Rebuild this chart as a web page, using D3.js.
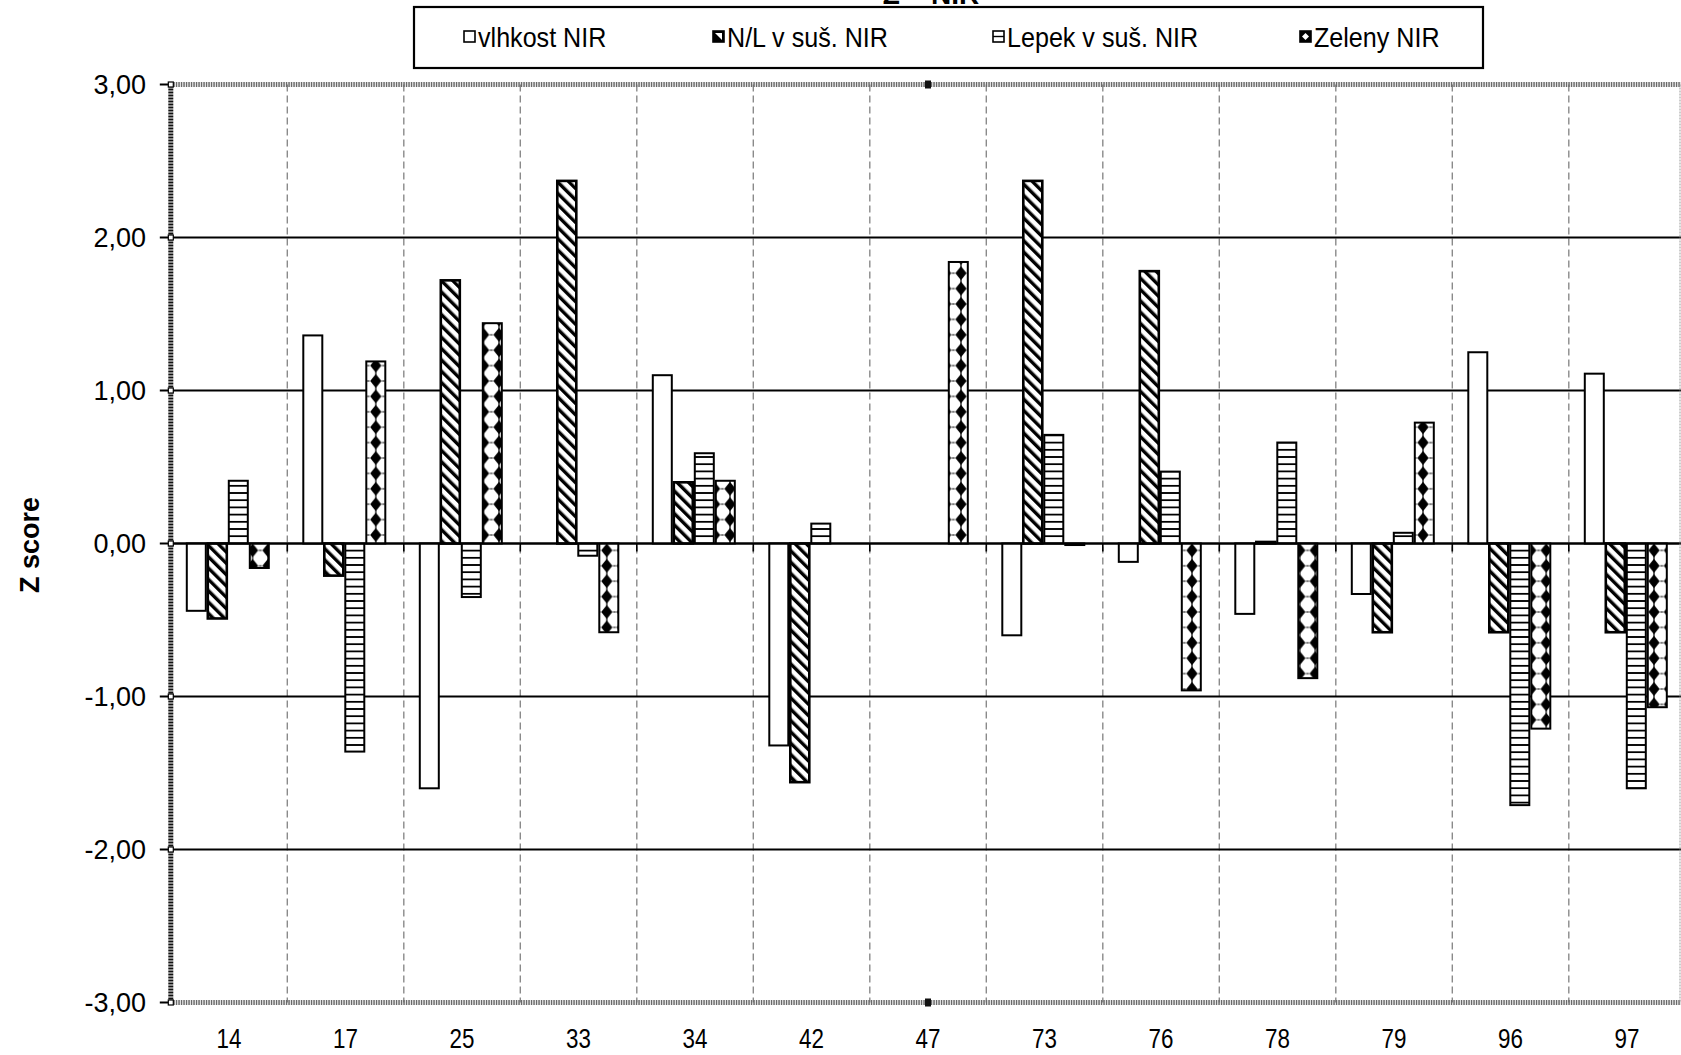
<!DOCTYPE html>
<html><head><meta charset="utf-8">
<script src="https://cdn.jsdelivr.net/npm/d3@7"></script>
<style>body{margin:0;background:#fff;overflow:hidden}</style>
</head><body><svg id="c" width="1681" height="1055"></svg>
<script>
// ---- data ----
const categories = ["14","17","25","33","34","42","47","73","76","78","79","96","97"];
const seriesNames = ["vlhkost NIR","N/L v suš. NIR","Lepek v suš. NIR","Zeleny NIR"];
const vlhkost = [-0.44, 1.36, -1.60, null, 1.10, -1.32, null, -0.60, -0.12, -0.46, -0.33, 1.25, 1.11];
const nl      = [-0.49, -0.21, 1.72, 2.37, 0.40, -1.56, null, 2.37, 1.78, 0.01, -0.58, -0.58, -0.58];
const lepek   = [0.41, -1.36, -0.35, -0.08, 0.59, 0.13, null, 0.71, 0.47, 0.66, 0.07, -1.71, -1.60];
const zeleny  = [-0.16, 1.19, 1.44, -0.58, 0.41, null, 1.84, -0.01, -0.96, -0.88, 0.79, -1.21, -1.07];
const yTicks = [-3, -2, -1, 0, 1, 2, 3];
const titleText = "Z – NIR";
const yAxisTitle = "Z score";

const seriesValues = [vlhkost, nl, lepek, zeleny];
const fills = ["#fff", "url(#pNL)", "url(#pLep)", "url(#pZel)"];
const strokeW = [2, 2.6, 2, 2];

const svg = d3.select("#c");
const FONT = "'Liberation Sans', Arial, sans-serif";
const pLeft = 170.8, band = 116.5, pTop = 84.5, pBottom = 1002.5;

const x0 = d3.scaleBand().domain(categories).range([pLeft, pLeft + band * categories.length]).padding(0);
const x1 = d3.scaleBand().domain(seriesNames).range([15, 15 + 84]).padding(0);
const y = d3.scaleLinear().domain([-3, 3]).range([pBottom, pTop]);

// ---- patterns ----
const defs = svg.append("defs");
const pNL = defs.append("pattern").attr("id", "pNL").attr("patternUnits", "userSpaceOnUse")
  .attr("width", 8).attr("height", 8).attr("patternTransform", "rotate(-45)");
pNL.append("rect").attr("width", 8).attr("height", 8).attr("fill", "#fff");
pNL.append("rect").attr("width", 3.4).attr("height", 8).attr("fill", "#000");

const pLep = defs.append("pattern").attr("id", "pLep").attr("patternUnits", "userSpaceOnUse")
  .attr("width", 10).attr("height", 7.2).attr("y", y(0) - 1);
pLep.append("rect").attr("width", 10).attr("height", 7.2).attr("fill", "#fff");
pLep.append("rect").attr("width", 10).attr("height", 1.8).attr("fill", "#000");

const P = 15.4;
const zelCenter = x0("17") + x1("Zeleny NIR") + x1.bandwidth() / 2;
const pZel = defs.append("pattern").attr("id", "pZel").attr("patternUnits", "userSpaceOnUse")
  .attr("width", P).attr("height", P).attr("x", zelCenter - P / 2).attr("y", y(0) - 8.5 - P / 2);
pZel.append("rect").attr("width", P).attr("height", P).attr("fill", "#fff");
pZel.append("line").attr("x1", P / 2).attr("x2", P / 2).attr("y1", 0).attr("y2", P)
  .attr("stroke", "#000").attr("stroke-width", 1.2);
pZel.append("polygon").attr("points", `${P/2},0.7 ${P/2+5.6},${P/2} ${P/2},${P-0.7} ${P/2-5.6},${P/2}`).attr("fill", "#000");
pZel.append("line").attr("x1", 0).attr("x2", 1.5).attr("y1", P/2).attr("y2", P/2).attr("stroke", "#000").attr("stroke-width", 1.2);
pZel.append("line").attr("x1", P - 1.5).attr("x2", P).attr("y1", P/2).attr("y2", P/2).attr("stroke", "#000").attr("stroke-width", 1.2);

// ---- title (mostly cut off at the top edge, as in the source) ----
svg.append("text").attr("x", 931).attr("y", 4).attr("text-anchor", "middle")
  .attr("font-family", FONT).attr("font-weight", "bold").attr("font-size", 28).text(titleText);

// ---- vertical dashed separators ----
const g = svg.append("g");
categories.slice(0, -1).forEach(c => {
  const xx = x0(c) + band;
  g.append("line").attr("x1", xx).attr("x2", xx).attr("y1", pTop).attr("y2", pBottom)
    .attr("stroke", "#8a8a8a").attr("stroke-width", 1.4).attr("stroke-dasharray", "7,4");
  g.append("line").attr("x1", xx).attr("x2", xx).attr("y1", y(0)).attr("y2", y(0) + 8)
    .attr("stroke", "#000").attr("stroke-width", 1.6);
});

// ---- horizontal gridlines ----
yTicks.filter(t => t !== 3 && t !== -3).forEach(t => {
  g.append("line").attr("x1", pLeft).attr("x2", 1681).attr("y1", y(t)).attr("y2", y(t))
    .attr("stroke", "#000").attr("stroke-width", 2);
});

// ---- bars ----
seriesValues.forEach((vals, si) => {
  const s = seriesNames[si];
  g.append("g").selectAll("rect")
    .data(categories.map((c, i) => ({ c, v: vals[i] })).filter(d => d.v !== null))
    .join("rect")
    .attr("x", d => x0(d.c) + x1(s) + 1)
    .attr("width", x1.bandwidth() - 2)
    .attr("y", d => Math.min(y(d.v), y(0)))
    .attr("height", d => Math.max(Math.abs(y(d.v) - y(0)), 1))
    .attr("fill", fills[si]).attr("stroke", "#000").attr("stroke-width", strokeW[si]);
});

// ---- zero line on top ----
g.append("line").attr("x1", pLeft).attr("x2", 1681).attr("y1", y(0)).attr("y2", y(0))
  .attr("stroke", "#000").attr("stroke-width", 2);

// ---- frame ----
[pTop, pBottom].forEach(yy => {
  svg.append("line").attr("x1", pLeft).attr("x2", 1681).attr("y1", yy).attr("y2", yy)
    .attr("stroke", "#6a6a6a").attr("stroke-width", 5).attr("stroke-dasharray", "1.5,1");
  svg.append("rect").attr("x", 925).attr("y", yy - 4).attr("width", 6).attr("height", 8).attr("fill", "#111");
});
svg.append("line").attr("x1", 1680).attr("x2", 1680).attr("y1", pTop).attr("y2", pBottom)
  .attr("stroke", "#999").attr("stroke-width", 1).attr("stroke-dasharray", "2,1");
svg.append("line").attr("x1", pLeft).attr("x2", pLeft).attr("y1", pTop - 2).attr("y2", pBottom + 2)
  .attr("stroke", "#111").attr("stroke-width", 5).attr("stroke-dasharray", "2,1");

// ---- y axis ----
const fmt = v => d3.format(".2f")(v).replace(".", ",").replace("−", "-");
yTicks.forEach(t => {
  svg.append("line").attr("x1", pLeft - 11).attr("x2", pLeft).attr("y1", y(t)).attr("y2", y(t))
    .attr("stroke", "#000").attr("stroke-width", 2);
  svg.append("rect").attr("x", pLeft - 2.5).attr("y", y(t) - 2.5).attr("width", 5).attr("height", 5)
    .attr("fill", "#fff").attr("stroke", "#000").attr("stroke-width", 1.2);
  svg.append("text").attr("x", 146).attr("y", y(t) + 9.6).attr("text-anchor", "end")
    .attr("font-family", FONT).attr("font-size", 27).attr("fill", "#000").text(fmt(t));
});

// ---- x labels ----
categories.forEach(c => {
  const cx = x0(c) + band / 2;
  svg.append("text").attr("transform", `translate(${cx},1048) scale(0.8,1)`).attr("text-anchor", "middle")
    .attr("font-family", FONT).attr("font-size", 28).attr("fill", "#000").text(c);
});

// ---- y title ----
svg.append("text").attr("transform", "translate(39,545) rotate(-90)").attr("text-anchor", "middle")
  .attr("font-family", FONT).attr("font-weight", "bold").attr("font-size", 27).text(yAxisTitle);

// ---- legend ----
const lg = svg.append("g");
lg.append("rect").attr("x", 414).attr("y", 7).attr("width", 1069).attr("height", 61)
  .attr("fill", "#fff").attr("stroke", "#000").attr("stroke-width", 2.2);
const legX = [464, 713, 993, 1300];
seriesNames.forEach((s, i) => {
  lg.append("rect").attr("x", legX[i]).attr("y", 31).attr("width", 11).attr("height", 11)
    .attr("fill", i === 0 || i === 2 ? "#fff" : "#000")
    .attr("stroke", "#000").attr("stroke-width", 1.6);
  if (i === 1) lg.append("path").attr("d", `M${legX[i]+2},33 L${legX[i]+9},40 L${legX[i]+9},33 Z`).attr("fill", "#fff");
  if (i === 2) lg.append("line").attr("x1", legX[i]).attr("x2", legX[i] + 11).attr("y1", 36.5).attr("y2", 36.5).attr("stroke", "#000").attr("stroke-width", 1.4);
  if (i === 3) lg.append("path").attr("d", `M${legX[i]+5.5},33 L${legX[i]+9},36.5 L${legX[i]+5.5},40 L${legX[i]+2},36.5 Z`).attr("fill", "#fff");
  lg.append("text").attr("transform", `translate(${legX[i] + 14},46.5) scale(0.93,1)`).attr("font-family", FONT)
    .attr("font-size", 27).attr("fill", "#000").text(s);
});
</script></body></html>
